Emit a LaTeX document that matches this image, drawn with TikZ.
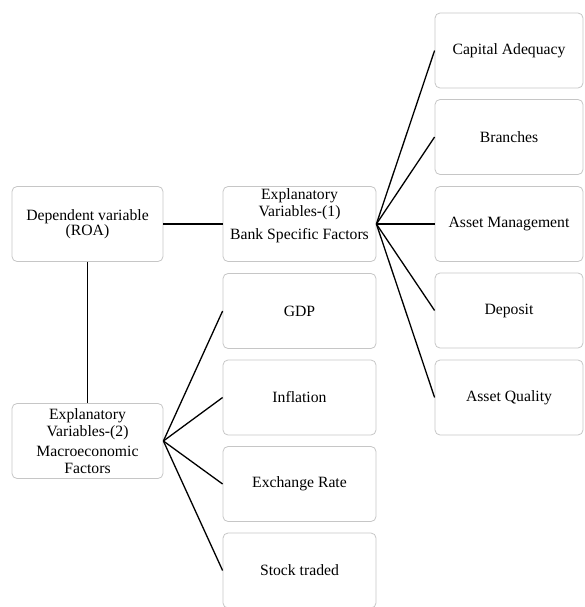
\documentclass[tikz,border=0pt]{standalone}
\usepackage{fontspec}
\setmainfont{Liberation Serif}

\tikzstyle{factor} = [draw=gray!45, line width=0.8pt, rounded corners=5pt, inner sep=0pt, minimum height=75pt, align=center, font=\fontsize{15.7}{17}\selectfont]
\tikzstyle{leftbox} = [factor, minimum width=151pt]
\tikzstyle{midbox} = [factor, minimum width=153pt]
\tikzstyle{rightbox} = [factor, minimum width=148pt]
\tikzstyle{link} = [line width=1.3pt]

\begin{document}
\begin{tikzpicture}[x=1pt,y=-1pt]
		\useasboundingbox (0,0) rectangle (584,607);
		\node[leftbox] (dep) at (87.5,224) {Dependent variable\\[-2pt](ROA)};
		\node[midbox] (bank) at (299.5,224) {\parbox[c][70pt][t]{150pt}{\centering Explanatory\\Variables-(1)\par\vspace{6pt}Bank Specific Factors}};
		\node[leftbox] (macro) at (87.5,441) {Explanatory\\Variables-(2)\\[3pt]Macroeconomic\\Factors};
		\node[rightbox] (cap) at (509,50.5) {Capital Adequacy};
		\node[rightbox] (bra) at (509,137) {Branches};
		\node[rightbox] (amg) at (509,224) {Asset Management};
		\node[rightbox] (dpt) at (509,310.5) {Deposit};
		\node[rightbox] (aql) at (509,397.5) {Asset Quality};
		\node[midbox] (gdp) at (299.5,311) {GDP};
		\node[midbox] (inf) at (299.5,397.5) {Inflation};
		\node[midbox] (exr) at (299.5,484) {Exchange Rate};
		\node[midbox] (stk) at (299.5,570.5) {Stock traded};
		\draw[link] (dep) -- (bank);
		\draw[link] (dep) -- (macro);
		\draw[link] (bank.east) -- (cap.west);
		\draw[link] (bank.east) -- (bra.west);
		\draw[link] (bank.east) -- (amg.west);
		\draw[link] (bank.east) -- (dpt.west);
		\draw[link] (bank.east) -- (aql.west);
		\draw[link] (macro.east) -- (gdp.west);
		\draw[link] (macro.east) -- (inf.west);
		\draw[link] (macro.east) -- (exr.west);
		\draw[link] (macro.east) -- (stk.west);
		\end{tikzpicture}
\end{document}
